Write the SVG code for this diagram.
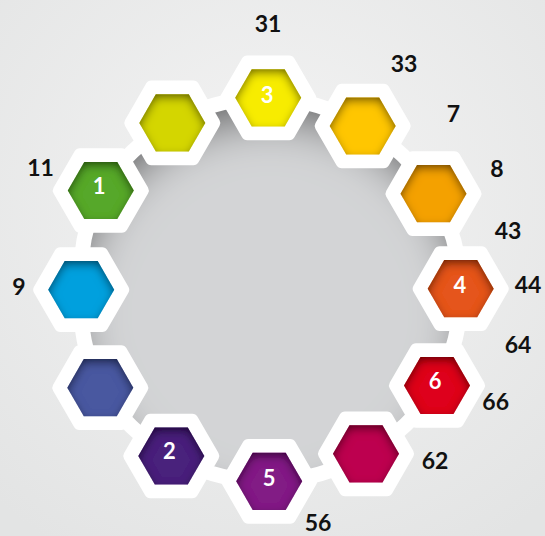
<svg xmlns="http://www.w3.org/2000/svg" width="545" height="536" viewBox="0 0 545 536">
  <defs>
    <radialGradient id="bg" cx="50%" cy="38%" r="75%">
      <stop offset="0" stop-color="#f4f4f4"/>
      <stop offset="1" stop-color="#e3e4e4"/>
    </radialGradient>
    <filter id="diskShadow" x="-25%" y="-25%" width="150%" height="150%">
      <feComponentTransfer in="SourceAlpha" result="inv"><feFuncA type="table" tableValues="1 0"/></feComponentTransfer>
      <feOffset in="inv" dy="24" result="off"/>
      <feGaussianBlur in="off" stdDeviation="22" result="blur"/>
      <feFlood flood-color="#000" flood-opacity="0.8"/>
      <feComposite in2="blur" operator="in"/>
      <feComposite in2="SourceAlpha" operator="in" result="sh"/>
      <feMerge><feMergeNode in="SourceGraphic"/><feMergeNode in="sh"/></feMerge>
    </filter>
    <filter id="inner" x="-30%" y="-30%" width="160%" height="160%">
      <feComponentTransfer in="SourceAlpha" result="inv"><feFuncA type="table" tableValues="1 0"/></feComponentTransfer>
      <feOffset in="inv" dy="4" result="off"/>
      <feGaussianBlur in="off" stdDeviation="5" result="blur"/>
      <feFlood flood-color="#000" flood-opacity="0.85"/>
      <feComposite in2="blur" operator="in"/>
      <feComposite in2="SourceAlpha" operator="in" result="sh"/>
      <feMerge><feMergeNode in="SourceGraphic"/><feMergeNode in="sh"/></feMerge>
    </filter>
    <polygon id="hexOuter" points="42,0 21,36.37 -21,36.37 -42,0 -21,-36.37 21,-36.37"/>
    <polygon id="hexInner" points="33,0 16.5,28.58 -16.5,28.58 -33,0 -16.5,-28.58 16.5,-28.58"/>
    <style>
      .outer { fill: #ffffff; stroke: #ffffff; stroke-width: 12; stroke-linejoin: round; }
      .inner { filter: url(#inner); }
      .conn { fill: none; stroke: #ffffff; stroke-width: 15; }
      .num { font-family: "Lato", "Liberation Sans", sans-serif; font-weight: 700; font-size: 23px; fill: #111111; text-anchor: middle; }
      .tag { font-family: "Lato", "Liberation Sans", sans-serif; font-weight: 700; font-size: 22px; fill: #ffffff; text-anchor: middle; }
    </style>
  </defs>

  <rect x="0" y="0" width="545" height="536" fill="url(#bg)"/>
  <circle cx="270" cy="289.5" r="191" fill="#d3d4d6" filter="url(#diskShadow)"/>

  <g id="connectors">
    <path class="conn" d="M268.2,97.8 A192,192 0 0 1 362.7,126"/>
    <path class="conn" d="M362.7,126 A192,192 0 0 1 433.5,193.7"/>
    <path class="conn" d="M433.5,193.7 A192,192 0 0 1 460.7,288.7"/>
    <path class="conn" d="M460.7,288.7 A192,192 0 0 1 437,385.5"/>
    <path class="conn" d="M437,385.5 A192,192 0 0 1 366,453.8"/>
    <path class="conn" d="M366,453.8 A192,192 0 0 1 269.2,481.3"/>
    <path class="conn" d="M269.2,481.3 A192,192 0 0 1 171.3,456"/>
    <path class="conn" d="M171.3,456 A192,192 0 0 1 100.3,387.7"/>
    <path class="conn" d="M100.3,387.7 A192,192 0 0 1 81.2,289.7"/>
    <path class="conn" d="M81.2,289.7 A192,192 0 0 1 100.8,190.5"/>
    <path class="conn" d="M100.8,190.5 A192,192 0 0 1 172.3,122.9"/>
    <path class="conn" d="M172.3,122.9 A192,192 0 0 1 268.2,97.8"/>
  </g>

  <g id="node-yellowgreen" transform="translate(172.3,122.9)">
    <use href="#hexOuter" class="outer"/>
    <use href="#hexInner" class="inner" fill="#d4d600"/>
  </g>
  <g id="node-3" transform="translate(268.2,97.8)">
    <use href="#hexOuter" class="outer"/>
    <use href="#hexInner" class="inner" fill="#f7ec00"/>
    <text class="tag" x="-1" y="5.5">3</text>
  </g>
  <g id="node-amber" transform="translate(362.7,126)">
    <use href="#hexOuter" class="outer"/>
    <use href="#hexInner" class="inner" fill="#ffc600"/>
  </g>
  <g id="node-orange" transform="translate(433.5,193.7)">
    <use href="#hexOuter" class="outer"/>
    <use href="#hexInner" class="inner" fill="#f4a100"/>
  </g>
  <g id="node-4" transform="translate(460.7,288.7)">
    <use href="#hexOuter" class="outer"/>
    <use href="#hexInner" class="inner" fill="#e5541a"/>
    <text class="tag" x="-0.7" y="4.5">4</text>
  </g>
  <g id="node-6" transform="translate(437,385.5)">
    <use href="#hexOuter" class="outer"/>
    <use href="#hexInner" class="inner" fill="#de001f"/>
    <text class="tag" x="-2" y="3.8">6</text>
  </g>
  <g id="node-crimson" transform="translate(366,453.8)">
    <use href="#hexOuter" class="outer"/>
    <use href="#hexInner" class="inner" fill="#bd0050"/>
  </g>
  <g id="node-5" transform="translate(269.2,481.3)">
    <use href="#hexOuter" class="outer"/>
    <use href="#hexInner" class="inner" fill="#821c85"/>
    <text class="tag" x="0" y="4.7">5</text>
  </g>
  <g id="node-2" transform="translate(171.3,456)">
    <use href="#hexOuter" class="outer"/>
    <use href="#hexInner" class="inner" fill="#4a247c"/>
    <text class="tag" x="-2" y="3">2</text>
  </g>
  <g id="node-navy" transform="translate(100.3,387.7)">
    <use href="#hexOuter" class="outer"/>
    <use href="#hexInner" class="inner" fill="#4a58a0"/>
  </g>
  <g id="node-blue" transform="translate(81.2,289.7)">
    <use href="#hexOuter" class="outer"/>
    <use href="#hexInner" class="inner" fill="#00a0de"/>
  </g>
  <g id="node-1" transform="translate(100.8,190.5)">
    <use href="#hexOuter" class="outer"/>
    <use href="#hexInner" class="inner" fill="#57a82c"/>
    <text class="tag" x="-1.8" y="3.5">1</text>
  </g>

  <g id="labels">
    <text class="num" x="268" y="31.5">31</text>
    <text class="num" x="404" y="71.7">33</text>
    <text class="num" x="453.5" y="121.7">7</text>
    <text class="num" x="497" y="176.7">8</text>
    <text class="num" x="508" y="239.3">43</text>
    <text class="num" x="528" y="293.3">44</text>
    <text class="num" x="518" y="352.7">64</text>
    <text class="num" x="495.7" y="410">66</text>
    <text class="num" x="435" y="468.7">62</text>
    <text class="num" x="318" y="531">56</text>
    <text class="num" x="18.8" y="295">9</text>
    <text class="num" x="40.5" y="176">11</text>
  </g>
</svg>
